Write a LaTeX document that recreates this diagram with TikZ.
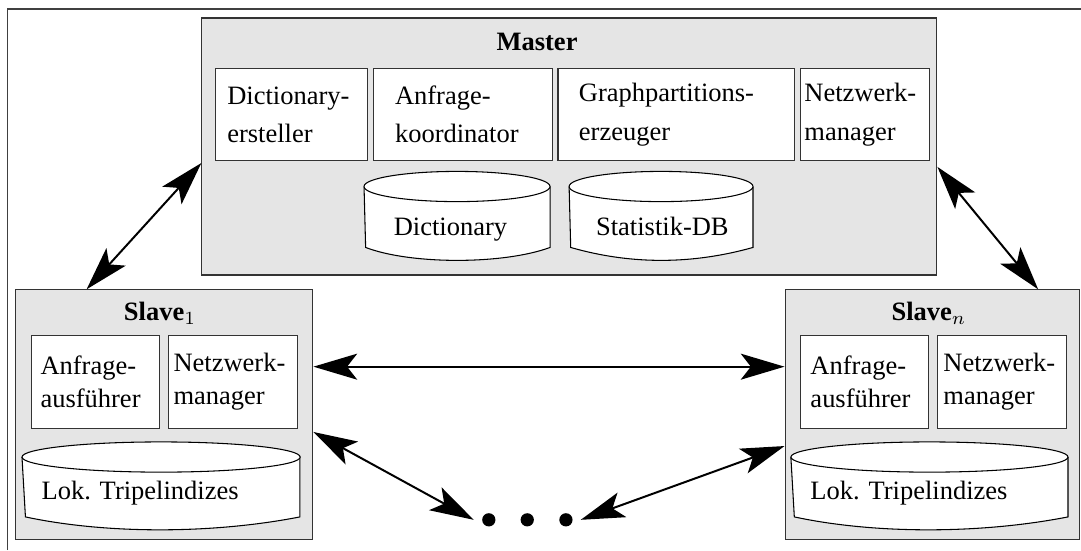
\documentclass[tikz,border=0pt]{standalone}
\usepackage{fontspec}
\setmainfont{Liberation Serif}
\usepackage{tikz}
\usetikzlibrary{positioning, calc, arrows.meta}

\begin{document}
\begin{tikzpicture}[
  x=1pt, y=-1pt,
  font=\fontsize{10}{12.6}\selectfont,
  group/.style={draw=black!80, fill=black!10, inner sep=0pt},
  comp/.style={draw=black!80, fill=white, inner ysep=0pt, align=left,
               minimum height=35pt},
  mcomp/.style={comp, minimum height=34.7pt,
                font=\fontsize{10}{14.5}\selectfont},
  gtitle/.style={font=\bfseries, anchor=base, inner sep=0pt},
  dbline/.style={draw=black, fill=white},
  dbtext/.style={inner sep=0pt, anchor=base},
  tip/.tip={Stealth[length=16.5pt, width=9.8pt, inset=3.8pt]},
  link/.style={tip-tip, line width=0.75pt},
]
\useasboundingbox (0,0) rectangle (408,207.6);
\draw[black!75, line width=0.5pt] (2.8,207.6) -- (2.8,3.4) -- (408,3.4);

% master
\node[group, minimum width=277.4pt, minimum height=97pt] (master) at (214.9,55.3) {};
\node[gtitle] (mtitle) at (202.7,18.9) {Master};
\node[mcomp, anchor=north west, minimum width=57.4pt, text width=48.4pt, inner xsep=4.5pt]
  (dictgen) at (81.1,25.7) {Dictionary-\\ersteller};
\node[mcomp, right=1.7pt of dictgen, minimum width=67.9pt, text width=51.3pt, inner xsep=8.3pt]
  (anfko) {Anfrage-\\koordinator};
\node[mcomp, right=1.5pt of anfko, minimum width=89.4pt, text width=73.6pt, inner xsep=7.9pt]
  (graphp) {Graphpartitions-\\erzeuger};
\node[mcomp, right=1.7pt of graphp, minimum width=48.7pt, text width=45.7pt, inner xsep=1.5pt]
  (netzm) {Netzwerk-\\manager};

\draw[dbline] (137.4,70.4) -- (138.0,93.4) .. controls (155,99.9) and (190,99.9) .. (207.6,93.4) -- (207.6,70.4);
\draw[dbline] (172.5,70.4) ellipse [x radius=35.1pt, y radius=5.7pt];
\node[dbtext] (dictdb) at (170.0,89) {Dictionary};
\draw[dbline] (214.8,70.4) -- (215.4,93.4) .. controls (238,99.9) and (261,99.9) .. (284.2,93.4) -- (284.2,70.4);
\draw[dbline] (249.5,70.4) ellipse [x radius=34.7pt, y radius=5.7pt];
\node[dbtext] (statdb) at (250.0,89) {Statistik-DB};

% slave 1
\node[group, minimum width=112.1pt, minimum height=94.4pt] (slave1) at (62.05,156.6) {};
\node[gtitle] (s1title) at (60.4,120.8) {Slave$_1$};
\node[comp, anchor=north west, minimum width=48.3pt, text width=41.5pt, inner xsep=3.4pt]
  (anfs1) at (11.7,126.4) {Anfrage-\\ausführer};
\node[comp, right=3pt of anfs1, minimum width=48.7pt, text width=44.9pt, inner xsep=1.9pt]
  (netz1) {Netzwerk-\\manager};
\draw[dbline] (8.3,172.5) -- (9.6,195.1) .. controls (40,201.6) and (80,201.6) .. (113.2,195.1) -- (113.2,172.5);
\draw[dbline] (60.8,172.5) ellipse [x radius=52.5pt, y radius=5.7pt];
\node[dbtext, anchor=base west] (lok1) at (15.5,188.7) {Lok. Tripelindizes};

% slave n
\node[group, minimum width=111.3pt, minimum height=94.4pt] (slaven) at (351.95,156.6) {};
\node[gtitle] (sntitle) at (350.6,120.8) {Slave$_n$};
\node[comp, anchor=north west, minimum width=48.3pt, text width=40.7pt, inner xsep=3.8pt]
  (anfsn) at (301.9,126.4) {Anfrage-\\ausführer};
\node[comp, right=3pt of anfsn, minimum width=48.7pt, text width=44.1pt, inner xsep=2.3pt]
  (netzn) {Netzwerk-\\manager};
\draw[dbline] (298.5,172.5) -- (299.8,195.1) .. controls (330,201.6) and (370,201.6) .. (403.1,195.1) -- (403.1,172.5);
\draw[dbline] (350.8,172.5) ellipse [x radius=52.3pt, y radius=5.7pt];
\node[dbtext, anchor=base west] (lokn) at (305.7,188.7) {Lok. Tripelindizes};

% further slaves
\node[inner sep=0pt, minimum width=40pt, minimum height=5pt,
      path picture={\foreach \dx in {-14.5,0,14.6}
        \fill ([xshift=\dx pt]path picture bounding box.center) circle (2.5pt);}]
  (dots) at (199,196.2) {};

\draw[link] ($(master.north west)!0.564!(master.south west)$) -- ($(slave1.north west)!0.239!(slave1.north east)$);
\draw[link] ($(master.north east)!0.579!(master.south east)$) -- ($(slaven.north west)!0.857!(slaven.north east)$);
\draw[link] ($(slave1.north east)!0.308!(slave1.south east)$) -- ($(slaven.north west)!0.308!(slaven.south west)$);
\draw[link] ($(slave1.north east)!0.568!(slave1.south east)$) -- (dots.west);
\draw[link] (dots.east) -- ($(slaven.north west)!0.624!(slaven.south west)$);
\end{tikzpicture}
\end{document}
